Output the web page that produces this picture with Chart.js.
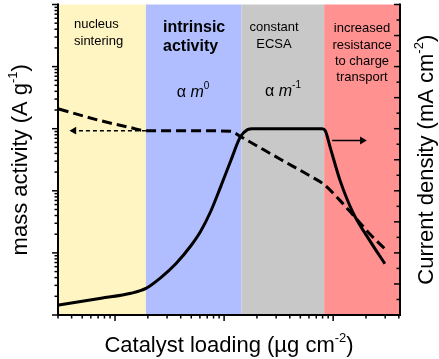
<!DOCTYPE html>
<html><head><meta charset="utf-8">
<script src="https://cdn.jsdelivr.net/npm/chart.js@4/dist/chart.umd.min.js"></script>
<style>html,body{margin:0;padding:0;background:#fff;overflow:hidden}</style>
</head><body>
<canvas id="c" width="439" height="359"></canvas>
<script>
// ---- data ----
const bandEdges = [0.305, 1.92, 14.45, 82.7, 410];
const bandColors = ['#FFF5C2', '#B0BEFF', '#C8C8C8', '#FF9191'];
const solidX = [0.305, 0.745, 1.40, 1.92, 2.63, 3.61, 4.94, 6.10, 7.53, 9.29, 11.46, 14.15, 16.4, 18.2, 79.2, 84.5, 93.9, 116, 152, 218, 298];
const solidY = [0.32, 0.54, 0.70, 0.857, 1.206, 1.651, 2.222, 2.698, 3.333, 4.127, 4.952, 5.746, 5.97, 6.0, 6.0, 5.94, 5.40, 4.32, 3.30, 2.38, 1.65];
const dashX = [0.305, 0.745, 1.40, 1.92, 4.94, 11.46, 14.15, 32.8, 61.6, 81.1, 116, 159, 218, 311];
const dashY = [2077, 1340, 1037, 929, 929, 913, 746, 322, 173, 129, 69.4, 37.3, 20.0, 10.8];
const arrowRightX = [97.9, 185];
const arrowRightY = [5.62, 5.62];
const arrowLeftX = [1.92, 0.42];
const arrowLeftY = [929, 929];
const xRange = [0.305, 410];
const yLeftRange = [1, 1e5];
const yRightRange = [0, 10];
const yRightStep = 0.5;

const FONT = "'Liberation Sans', Arial, Helvetica, sans-serif";
const pts = (xs, ys) => xs.map((x, i) => ({x, y: ys[i]}));

function drawRich(ctx, x, y, parts, align) {
  let w = 0;
  parts.forEach(p => { ctx.font = p[1]; w += ctx.measureText(p[0]).width; });
  let cx = align === 'center' ? x - w / 2 : (align === 'right' ? x - w : x);
  ctx.textAlign = 'left';
  ctx.textBaseline = 'alphabetic';
  parts.forEach(p => { ctx.font = p[1]; ctx.fillText(p[0], cx, y + (p[2] || 0)); cx += ctx.measureText(p[0]).width; });
}

const decorPlugin = {
  id: 'decor',
  beforeDatasetsDraw(chart) {
    const {ctx, chartArea: {top, bottom}, scales: {x}} = chart;
    ctx.save();
    for (let i = 0; i < bandColors.length; i++) {
      const x0 = x.getPixelForValue(bandEdges[i]);
      const x1 = x.getPixelForValue(bandEdges[i + 1]);
      ctx.fillStyle = bandColors[i];
      ctx.fillRect(x0, top, x1 - x0, bottom - top);
    }
    ctx.restore();
  },
  afterDraw(chart) {
    const {ctx, chartArea: {left: L, right: R, top: T, bottom: B}, scales: {x, yL, yR}} = chart;
    ctx.save();
    ctx.strokeStyle = '#000';
    const seg = (a, b, c, d) => { ctx.beginPath(); ctx.moveTo(a, b); ctx.lineTo(c, d); ctx.stroke(); };
    // ticks
    ctx.lineWidth = 1.5;
    for (let e = -1; e <= 3; e++) for (let k = 1; k <= 9; k++) {
      const v = k * Math.pow(10, e);
      if (v < x.min * 0.999 || v > x.max) continue;
      const px = x.getPixelForValue(v);
      seg(px, B, px, B + (k === 1 ? 6 : 3.5));
    }
    for (let e = 0; e <= 5; e++) for (let k = 1; k <= 9; k++) {
      const v = k * Math.pow(10, e);
      if (v < yL.min || v > yL.max) continue;
      const py = yL.getPixelForValue(v);
      seg(L - (k === 1 ? 6 : 3.5), py, L, py);
    }
    for (let v = yR.min; v <= yR.max + 1e-9; v += yRightStep) {
      const py = yR.getPixelForValue(v);
      seg(R - (Math.abs(v - Math.round(v)) < 1e-9 ? 6 : 3.5), py, R, py);
    }
    // axis lines
    ctx.lineWidth = 2;
    seg(L, T - 1, L, B + 1);
    seg(L - 1, B, R + 1, B);
    seg(R, T - 1, R, B + 1);

    // region labels
    ctx.fillStyle = '#000';
    const f13 = '13px ' + FONT;
    drawRich(ctx, 74, 28, [['nucleus', f13]], 'left');
    drawRich(ctx, 74, 45, [['sintering', f13]], 'left');
    const b16 = 'bold 16px ' + FONT;
    drawRich(ctx, 163, 32, [['intrinsic', b16]], 'left');
    drawRich(ctx, 163, 51, [['activity', b16]], 'left');
    const r16 = '16px ' + FONT, i16 = 'italic 16px ' + FONT, s10 = '10px ' + FONT;
    drawRich(ctx, 193, 97, [['\u03B1 ', r16], ['m', i16], ['0', s10, -8]], 'center');
    drawRich(ctx, 274, 31, [['constant', f13]], 'center');
    drawRich(ctx, 274, 48, [['ECSA', f13]], 'center');
    drawRich(ctx, 283, 96, [['\u03B1 ', r16], ['m', i16], ['-1', s10, -8]], 'center');
    drawRich(ctx, 362, 32, [['increased', f13]], 'center');
    drawRich(ctx, 362, 48.5, [['resistance', f13]], 'center');
    drawRich(ctx, 362, 65, [['to charge', f13]], 'center');
    drawRich(ctx, 362, 81, [['transport', f13]], 'center');

    // axis titles
    const t22 = '22px ' + FONT, s13 = '13px ' + FONT;
    drawRich(ctx, (L + R) / 2, 352, [['Catalyst loading (\u00B5g cm', t22], ['-2', s13, -10], [')', t22]], 'center');
    ctx.save(); ctx.translate(27, (T + B) / 2); ctx.rotate(-Math.PI / 2);
    drawRich(ctx, 0, 0, [['mass activity (A g', t22], ['-1', s13, -10], [')', t22]], 'center');
    ctx.restore();
    ctx.save(); ctx.translate(433, (T + B) / 2); ctx.rotate(-Math.PI / 2);
    drawRich(ctx, 0, 0, [['Current density (mA cm', t22], ['-2', s13, -10], [')', t22]], 'center');
    ctx.restore();
    ctx.restore();
  }
};

new Chart(document.getElementById('c'), {
  type: 'line',
  data: {
    datasets: [
      {label: 'Current density', data: pts(solidX, solidY), yAxisID: 'yR', borderColor: '#000', borderWidth: 3,
       pointRadius: 0, cubicInterpolationMode: 'monotone', fill: false},
      {label: 'Mass activity', data: pts(dashX, dashY), yAxisID: 'yL', borderColor: '#000', borderWidth: 3,
       borderDash: [10, 5], pointRadius: 0, cubicInterpolationMode: 'monotone', fill: false},
      {label: 'arrowR', data: pts(arrowRightX, arrowRightY), yAxisID: 'yR', borderColor: '#000', borderWidth: 1.5,
       pointRadius: c => c.dataIndex === 1 ? 4.5 : 0, pointStyle: 'triangle', rotation: 90,
       pointBackgroundColor: '#000', pointBorderWidth: 0, tension: 0},
      {label: 'arrowL', data: pts(arrowLeftX, arrowLeftY), yAxisID: 'yL', borderColor: '#000', borderWidth: 1.5,
       borderDash: [4, 3], pointRadius: c => c.dataIndex === 1 ? 4.5 : 0, pointStyle: 'triangle', rotation: 270,
       pointBackgroundColor: '#000', pointBorderWidth: 0, tension: 0}
    ]
  },
  options: {
    responsive: false, animation: false, devicePixelRatio: 1,
    layout: {padding: {left: 58, right: 39, top: 1, bottom: 44}},
    plugins: {legend: {display: false}, tooltip: {enabled: false}},
    scales: {
      x: {type: 'logarithmic', min: xRange[0], max: xRange[1], display: false},
      yL: {type: 'logarithmic', position: 'left', min: yLeftRange[0], max: yLeftRange[1], display: false},
      yR: {type: 'linear', position: 'right', min: yRightRange[0], max: yRightRange[1], display: false}
    }
  },
  plugins: [decorPlugin]
});
</script>
</body></html>
